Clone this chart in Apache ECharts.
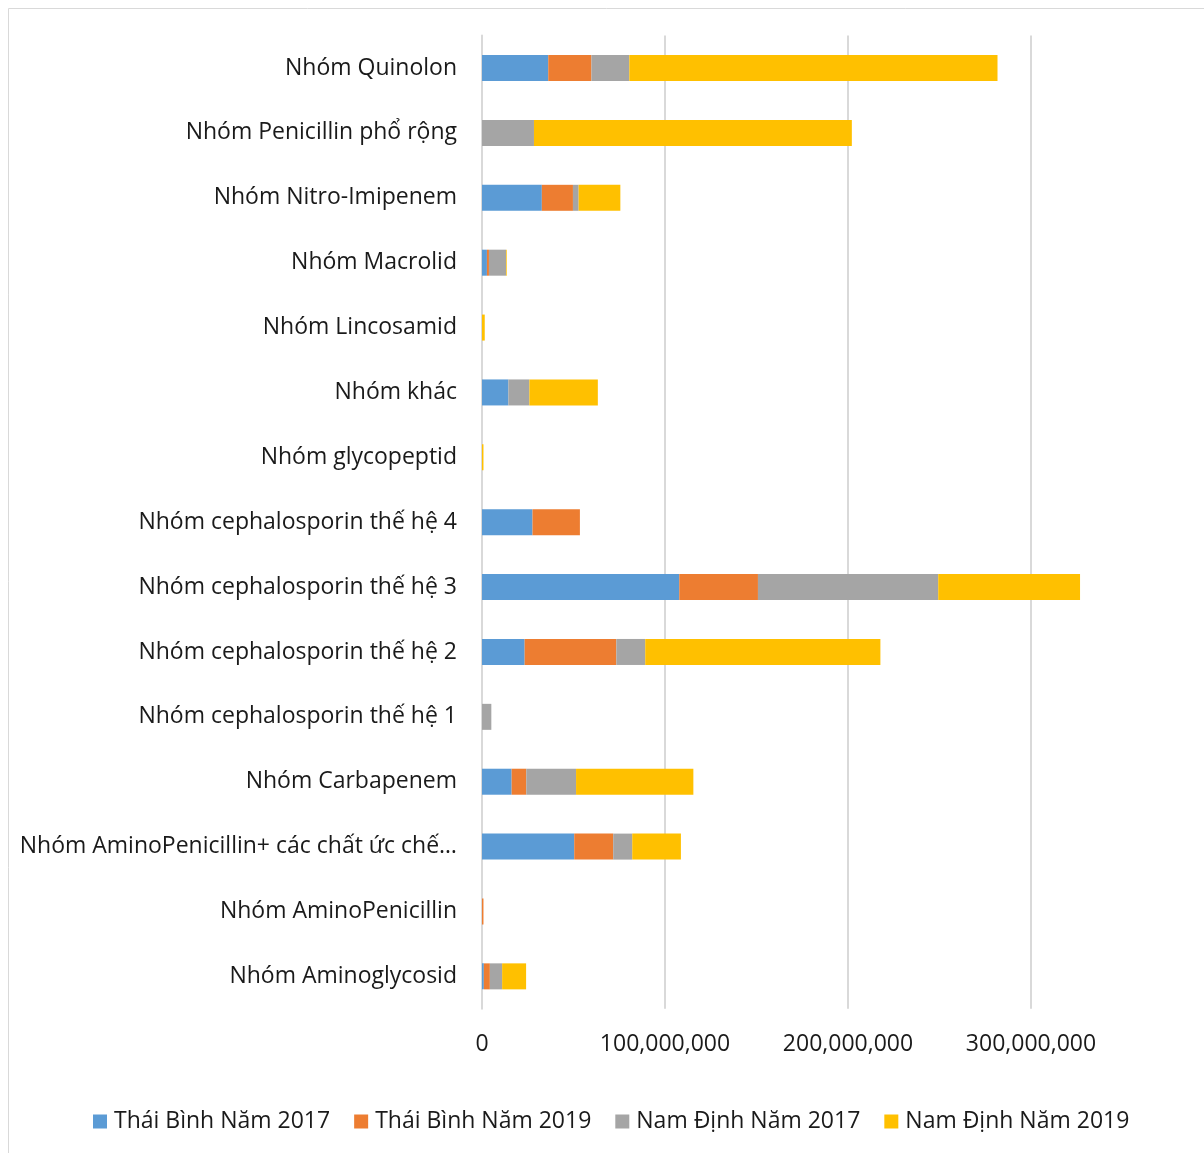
<!DOCTYPE html>
<html>
<head>
<meta charset="utf-8">
<script src="https://cdn.jsdelivr.net/npm/echarts@6/dist/echarts.min.js"></script>
<style>
  html, body { margin: 0; padding: 0; background: #fff; }
  #chart { width: 1204px; height: 1153px; }
</style>
</head>
<body>
<div id="chart"></div>
<script>
// Antibiotic groups, listed bottom to top
const categories = [
  'Nhóm Aminoglycosid',
  'Nhóm AminoPenicillin',
  'Nhóm AminoPenicillin+ các chất ức chế beta-lactamase',
  'Nhóm Carbapenem',
  'Nhóm cephalosporin thế hệ 1',
  'Nhóm cephalosporin thế hệ 2',
  'Nhóm cephalosporin thế hệ 3',
  'Nhóm cephalosporin thế hệ 4',
  'Nhóm glycopeptid',
  'Nhóm khác',
  'Nhóm Lincosamid',
  'Nhóm Macrolid',
  'Nhóm Nitro-Imipenem',
  'Nhóm Penicillin phổ rộng',
  'Nhóm Quinolon'
];

const seriesNames = ['Thái Bình Năm 2017', 'Thái Bình Năm 2019', 'Nam Định Năm 2017', 'Nam Định Năm 2019'];

// Spending values (VND)
const thaiBinh2017 = [1000000, 0, 50400000, 16200000, 0, 23300000, 107800000, 27600000, 0, 14400000, 0, 2700000, 32700000, 0, 36200000];
const thaiBinh2019 = [3300000, 800000, 21300000, 8000000, 0, 50100000, 43000000, 25900000, 0, 0, 0, 1100000, 17000000, 0, 23600000];
const namDinh2017 = [6700000, 0, 10400000, 27200000, 5100000, 15800000, 98500000, 0, 0, 11500000, 0, 9300000, 3100000, 28400000, 20700000];
const namDinh2019 = [13100000, 0, 26600000, 64100000, 0, 128500000, 77500000, 0, 800000, 37400000, 1500000, 400000, 22800000, 173700000, 201200000];

const xTicks = [0, 100000000, 200000000, 300000000];

const colors = ['#5B9BD5', '#ED7D31', '#A5A5A5', '#FFC000'];
const font = 'Open Sans, Noto Sans, sans-serif';

const chart = echarts.init(document.getElementById('chart'), null, { renderer: 'canvas' });

const fmt = v => v.toLocaleString('en-US');

chart.setOption({
  animation: false,
  color: colors,
  graphic: [{
    type: 'rect',
    shape: { x: 8.5, y: 8.5, width: 1200, height: 1150 },
    style: { fill: 'none', stroke: '#d9d9d9', lineWidth: 1 },
    silent: true
  }],
  legend: {
    top: 1105,
    left: 88,
    itemWidth: 14,
    itemHeight: 14,
    itemGap: 24,
    icon: 'rect',
    textStyle: { fontFamily: font, fontSize: 23, color: '#1a1a1a', padding: [0, 0, 0, 2] },
    data: seriesNames
  },
  grid: {
    left: 482,
    top: 35.6,
    width: 640.5,
    height: 973.2,
    containLabel: false
  },
  xAxis: {
    type: 'value',
    min: 0,
    max: 350000000,
    interval: 100000000,
    axisLine: { show: false },
    axisTick: { show: false },
    axisLabel: {
      fontFamily: font, fontSize: 23, color: '#1a1a1a', margin: 24,
      showMaxLabel: false,
      formatter: v => (xTicks.indexOf(v) >= 0 ? fmt(v) : '')
    },
    splitLine: { show: true, showMaxLine: false, lineStyle: { color: '#d9d9d9', width: 2 } }
  },
  yAxis: {
    type: 'category',
    data: categories,
    axisLine: { show: true, lineStyle: { color: '#d9d9d9', width: 2 } },
    axisTick: { show: false },
    axisLabel: {
      fontFamily: font, fontSize: 23, color: '#1a1a1a', margin: 25,
      width: 464, overflow: 'truncate', ellipsis: '…'
    }
  },
  series: [thaiBinh2017, thaiBinh2019, namDinh2017, namDinh2019].map((d, i) => ({
    name: seriesNames[i],
    type: 'bar',
    stack: 'total',
    barWidth: 26,
    data: d,
    itemStyle: { color: colors[i] }
  }))
});
</script>
</body>
</html>
